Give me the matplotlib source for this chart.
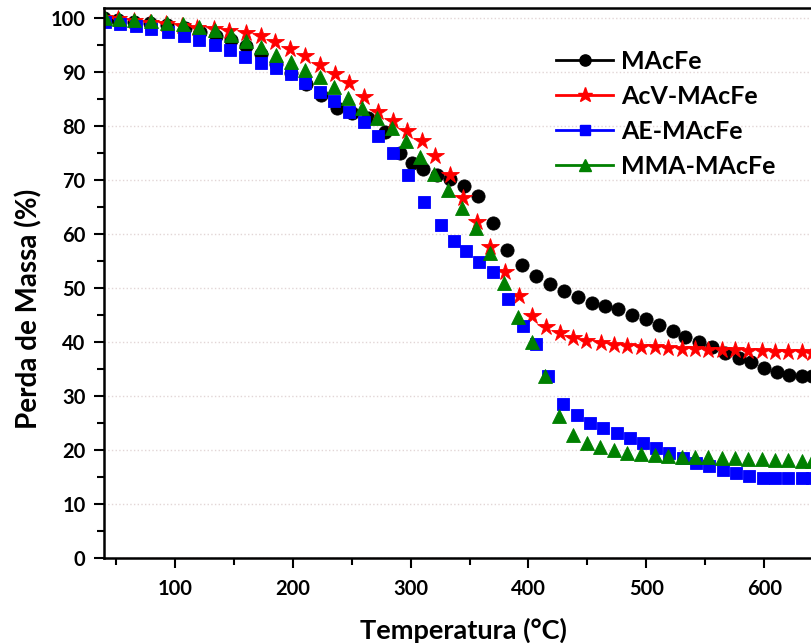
import matplotlib.pyplot as plt
from matplotlib.lines import Line2D
from matplotlib.ticker import MultipleLocator

# TGA data (temperature in C, mass in %)
t_macfe = [40, 52, 65, 79, 93, 108.5, 121, 134.8, 147.5, 160, 172.7, 185.5, 198.5, 211.2, 224,
           237.3, 250, 264.1, 278.3, 291, 301, 310.8, 322.5, 333.4, 345, 357.5, 369.7, 382, 394.2,
           406.4, 418.3, 430.2, 441.7, 453.6, 465, 476.3, 487.6, 499.8, 511.1, 522.5, 533, 544.3,
           555.5, 567, 578.3, 588.7, 600, 610.8, 621.5, 632, 640.5]
m_macfe = [100, 99.7, 99.4, 99.1, 98.7, 98.2, 97.4, 96.8, 95.9, 94.9, 93.4, 91.6, 89.8, 87.9, 85.8,
           83.4, 82.4, 81.5, 79.0, 75.0, 73.2, 72.1, 71.0, 70.2, 69.0, 67.0, 62.0, 57.0, 54.2,
           52.3, 50.8, 49.5, 48.4, 47.3, 46.7, 46.1, 45.0, 44.2, 43.2, 42.1, 41.0, 39.9,
           39.1, 37.9, 37.0, 36.2, 35.1, 34.5, 33.9, 33.6, 33.7]

t_acv = [40, 52, 65, 79, 92, 106, 119, 133, 146, 160, 172.7, 185, 198, 210.4, 223, 235.8, 248, 260,
         272.6, 285.3, 296.7, 309.4, 320.7, 333, 344.3, 356.1, 367.4, 380.1, 391.7, 402.8, 414.9,
         426.5, 437.8, 449.2, 461.4, 472.7, 484, 495.3, 507.5, 518.8, 530.1, 541.4, 552.7, 564,
         575.4, 586.7, 598, 609.3, 620.6, 632, 640.5]
m_acv = [100, 99.8, 99.5, 99.2, 98.9, 98.6, 98.3, 98.0, 97.6, 97.2, 96.7, 95.6, 94.4, 93.0, 91.4,
         89.7, 88.0, 85.5, 82.7, 80.9, 79.2, 77.3, 74.4, 70.9, 66.6, 62.2, 57.6, 52.9, 48.5, 44.8,
         42.7, 41.6, 40.8, 40.2, 39.8, 39.5, 39.3, 39.1, 39.0, 38.8, 38.7, 38.7, 38.5, 38.5,
         38.5, 38.4, 38.3, 38.2, 38.2, 38.1, 37.9]

t_ae = [40.6, 53, 66.5, 80, 94, 107.8, 120.6, 134, 146.7, 159.5, 173, 185.5, 198.5, 210.4, 223, 235,
        247.6, 260, 272.6, 285.3, 298, 311.4, 325.5, 336.8, 347, 358.3, 369.7, 382.5, 395, 406.3,
        416.8, 429.5, 440.8, 452.3, 463.6, 474.9, 486.2, 497, 508.3, 519.6, 531.5, 542.3, 553.6,
        564.9, 576.2, 587.5, 598.8, 609.3, 620.6, 632, 640.5]
m_ae = [99.4, 99.0, 98.5, 98.0, 97.4, 96.8, 96.0, 95.1, 94.2, 92.9, 91.8, 90.8, 89.6, 88.0, 86.3, 84.6,
        82.7, 80.7, 78.1, 75.0, 71.0, 66.0, 61.7, 58.8, 56.8, 54.9, 52.9, 47.9, 43.0, 39.6,
        33.7, 28.5, 26.4, 25.0, 24.0, 23.1, 22.2, 21.2, 20.3, 19.4, 18.4, 17.6, 17.0,
        16.3, 15.7, 15.2, 14.8, 14.7, 14.7, 14.7, 14.7]

t_mma = [40.6, 52.5, 65.5, 79.4, 93, 107, 120.6, 134, 147.5, 160, 173, 185.5, 198.2, 210.4, 223, 235,
         247, 259, 271.6, 284.4, 296, 308, 319.7, 331.6, 343.4, 355.5, 367.4, 379.2, 391.5, 402.8,
         414.1, 426.3, 438.2, 449.5, 460.8, 472.7, 484, 495.3, 507.5, 518.8, 530, 541.4, 552.7,
         564, 575.4, 586.7, 598, 609.3, 620.6, 632, 640.5]
m_mma = [100, 99.9, 99.7, 99.5, 99.2, 98.9, 98.4, 97.8, 97.0, 95.8, 94.6, 93.3, 91.9, 90.5, 89.1, 87.3,
         85.2, 83.4, 81.5, 79.7, 77.2, 74.3, 71.2, 68.1, 64.9, 61.1, 56.5, 50.9, 44.6, 39.9,
         33.7, 26.3, 22.8, 21.3, 20.5, 19.9, 19.5, 19.2, 19.1, 18.9, 18.7, 18.6, 18.6,
         18.5, 18.4, 18.3, 18.3, 18.2, 18.1, 18.0, 17.9]

labels = ['MAcFe', 'AcV-MAcFe', 'AE-MAcFe', 'MMA-MAcFe']
colors = ['black', 'red', 'blue', 'green']
markers = ['o', '*', 's', '^']
sizes = [9.5, 13, 8, 10]

plt.rcParams['font.family'] = ['Lato', 'DejaVu Sans']
plt.rcParams['font.weight'] = 'bold'

fig = plt.figure(figsize=(8.12, 6.43), dpi=100)
ax = fig.add_axes([0.1276, 0.1327, 0.886, 0.8555])

series = [(t_macfe, m_macfe), (t_acv, m_acv), (t_ae, m_ae), (t_mma, m_mma)]
for (t, m), c, mk, ms in zip(series, colors, markers, sizes):
    ax.plot(t, m, linestyle='none', marker=mk, color=c, markersize=ms,
            markeredgewidth=0.6, markeredgecolor=c)

ax.set_xlim(39.4, 650)
ax.set_ylim(0, 102)
ax.xaxis.set_major_locator(MultipleLocator(100))
ax.xaxis.set_minor_locator(MultipleLocator(50))
ax.yaxis.set_major_locator(MultipleLocator(10))
ax.yaxis.set_minor_locator(MultipleLocator(5))
ax.tick_params(which='major', direction='out', length=7, width=1.5, labelsize=14.5, pad=6)
ax.tick_params(which='minor', direction='out', length=5, width=1.5)
ax.tick_params(axis='x', which='major', pad=8)
ax.grid(axis='y', which='major', linestyle=':', color='#e2d6d6', linewidth=1)
for s in ax.spines.values():
    s.set_linewidth(1.8)

ax.set_xlabel('Temperatura (°C)', fontsize=19.5, fontweight='bold', labelpad=14)
ax.set_ylabel('Perda de Massa (%)', fontsize=20, fontweight='bold')
ax.yaxis.set_label_coords(-0.085, 0.452)

handles = [Line2D([], [], color=c, marker=mk, markersize=ms * 0.85, linewidth=2)
           for c, mk, ms in zip(colors, markers, sizes)]
fig.legend(handles, labels, loc='upper left', bbox_to_anchor=(0.657, 0.957),
           frameon=False, fontsize=18, handlelength=2.3, labelspacing=0.48, handletextpad=0.3)

fig.savefig('out.png', dpi=100)
